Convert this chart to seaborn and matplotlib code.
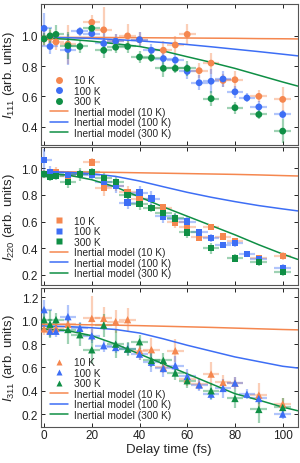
import numpy as np
import matplotlib
matplotlib.use("Agg")
import matplotlib.pyplot as plt
from matplotlib.lines import Line2D
import seaborn as sns

nan = np.nan

# delay times of the measured points (fs)
delay = [0, 2.5, 5, 10, 15, 20, 25, 30, 35, 40, 45, 50, 55, 60, 65, 70, 75, 80, 85, 90, 100]
delay_err = 3.5

# I_111
i111_10K = [0.98, 0.99, 0.96, 0.945, nan, 1.09, 1.04, 0.965, 1.0, 0.975, nan, 0.905, 0.94, 1.01, 0.77, 0.82, 0.705, 0.71, nan, 0.60, 0.58]
i111_100K = [1.05, 0.93, nan, 0.91, 1.03, 1.015, 0.95, 0.965, nan, 0.975, 0.905, 0.85, 0.84, 0.765, 0.69, 0.70, 0.715, 0.63, 0.59, 0.53, 0.48]
i111_300K = [0.98, 1.0, 1.01, 0.935, 0.93, 1.05, 0.905, 0.925, 0.93, 0.86, 0.855, 0.785, 0.785, 0.785, nan, 0.585, nan, 0.525, nan, 0.48, 0.37]
e111_10K = [0.05, 0.05, 0.05, 0.13, nan, 0.05, 0.15, 0.05, 0.08, 0.05, nan, 0.06, 0.06, 0.07, 0.05, 0.07, 0.04, 0.06, nan, 0.04, 0.08]
e111_100K = [0.1, 0.05, nan, 0.1, 0.03, 0.03, 0.07, 0.05, nan, 0.05, 0.04, 0.05, 0.04, 0.05, 0.05, 0.08, 0.05, 0.04, 0.03, 0.04, 0.03]
e111_300K = [0.04, 0.05, 0.06, 0.09, 0.04, 0.03, 0.05, 0.04, 0.04, 0.04, 0.03, 0.06, 0.03, 0.05, nan, 0.05, nan, 0.04, nan, 0.03, 0.08]

# I_220
i220_10K = [0.96, 0.965, 0.97, 0.94, 0.96, 1.045, 0.855, 0.87, 0.82, 0.773, nan, 0.705, 0.593, 0.56, 0.48, 0.56, 0.487, 0.455, nan, 0.322, 0.342]
i220_100K = [1.065, 0.975, 0.96, 0.95, 0.955, 0.95, 0.90, 0.867, 0.743, 0.818, 0.773, 0.638, 0.62, 0.60, 0.518, 0.475, 0.423, 0.437, 0.355, 0.317, 0.247]
i220_300K = [0.955, 0.935, 0.945, 0.90, 0.955, 0.975, 0.93, 0.897, 0.797, 0.73, 0.70, 0.662, 0.623, 0.518, nan, 0.398, nan, 0.322, nan, 0.297, 0.217]
e220_10K = [0.03, 0.03, 0.04, 0.04, 0.03, 0.03, 0.06, 0.04, 0.05, 0.04, nan, 0.03, 0.04, 0.03, 0.02, 0.02, 0.02, 0.02, nan, 0.02, 0.03]
e220_100K = [0.08, 0.04, 0.03, 0.03, 0.03, 0.03, 0.04, 0.05, 0.05, 0.05, 0.06, 0.05, 0.04, 0.04, 0.02, 0.03, 0.02, 0.03, 0.02, 0.02, 0.03]
e220_300K = [0.03, 0.03, 0.03, 0.05, 0.05, 0.03, 0.04, 0.04, 0.04, 0.04, 0.03, 0.04, 0.04, 0.04, nan, 0.04, nan, 0.03, nan, 0.03, 0.03]

# I_311
i311_10K = [0.93, 0.92, 0.935, 0.97, nan, 1.02, 1.02, 0.993, 1.009, 0.745, 0.752, 0.60, 0.743, 0.50, 0.455, 0.543, 0.471, 0.466, nan, 0.363, 0.286]
i311_100K = [1.095, 0.91, 0.91, 1.035, 0.935, 0.871, 0.786, 0.771, 0.76, 0.714, 0.645, 0.591, 0.615, 0.523, 0.449, 0.371, 0.42, 0.466, 0.371, 0.334, 0.20]
i311_300K = [1.01, 0.97, 1.01, 0.925, 0.88, 0.751, 0.962, 0.80, 0.757, 0.82, 0.66, 0.66, 0.552, 0.486, nan, 0.40, nan, 0.334, nan, 0.24, 0.257]
e311_10K = [0.05, 0.05, 0.05, 0.05, nan, 0.19, 0.10, 0.10, 0.10, 0.08, 0.10, 0.05, 0.10, 0.06, 0.05, 0.10, 0.06, 0.05, nan, 0.10, 0.05]
e311_100K = [0.08, 0.05, 0.05, 0.10, 0.05, 0.06, 0.05, 0.05, 0.05, 0.05, 0.08, 0.07, 0.08, 0.06, 0.05, 0.05, 0.08, 0.05, 0.04, 0.05, 0.04]
e311_300K = [0.10, 0.12, 0.06, 0.12, 0.10, 0.12, 0.10, 0.12, 0.06, 0.06, 0.06, 0.06, 0.06, 0.06, nan, 0.07, nan, 0.08, nan, 0.12, 0.08]

# inertial model curves
model_t = [-1.4, 0, 10, 20, 30, 40, 50, 60, 70, 80, 90, 100, 106.3]
m111_10K = [0.99, 0.99, 0.99, 0.99, 0.989, 0.988, 0.987, 0.986, 0.985, 0.984, 0.982, 0.981, 0.98]
m111_100K = [0.99, 0.99, 0.988, 0.983, 0.976, 0.967, 0.956, 0.943, 0.928, 0.912, 0.896, 0.879, 0.868]
m111_300K = [0.985, 0.985, 0.978, 0.965, 0.948, 0.93, 0.90, 0.862, 0.825, 0.785, 0.74, 0.695, 0.668]
m220_10K = [0.975, 0.975, 0.974, 0.972, 0.970, 0.967, 0.964, 0.961, 0.958, 0.955, 0.951, 0.946, 0.943]
m220_100K = [0.975, 0.975, 0.97, 0.96, 0.94, 0.905, 0.862, 0.82, 0.783, 0.75, 0.72, 0.695, 0.68]
m220_300K = [0.965, 0.965, 0.95, 0.915, 0.86, 0.785, 0.71, 0.64, 0.57, 0.50, 0.425, 0.355, 0.315]
m311_10K = [0.97, 0.97, 0.968, 0.965, 0.962, 0.958, 0.953, 0.948, 0.943, 0.937, 0.931, 0.925, 0.922]
m311_100K = [0.955, 0.955, 0.95, 0.94, 0.925, 0.895, 0.845, 0.79, 0.74, 0.69, 0.65, 0.61, 0.595]
m311_300K = [0.93, 0.93, 0.915, 0.872, 0.80, 0.715, 0.63, 0.545, 0.46, 0.375, 0.32, 0.26, 0.229]

temps = ["10 K", "100 K", "300 K"]
colors = ["#f5874f", "#3d6ef5", "#0f8f45"]

sns.set_theme(style="ticks")
plt.rcParams["font.family"] = ["Liberation Sans", "DejaVu Sans"]
plt.rcParams["mathtext.fontset"] = "custom"
plt.rcParams["mathtext.rm"] = "Liberation Sans"
plt.rcParams["mathtext.it"] = "Liberation Sans:italic"

panels = [
    dict(name="111", marker="o", s=24, data=[i111_10K, i111_100K, i111_300K],
         err=[e111_10K, e111_100K, e111_300K], model=[m111_10K, m111_100K, m111_300K],
         ylim=(0.278, 1.211), yticks=[0.4, 0.6, 0.8, 1.0], rect=[0.1357, 0.6853, 0.8567, 0.3039]),
    dict(name="220", marker="s", s=20, data=[i220_10K, i220_100K, i220_300K],
         err=[e220_10K, e220_100K, e220_300K], model=[m220_10K, m220_100K, m220_300K],
         ylim=(0.122, 1.165), yticks=[0.2, 0.4, 0.6, 0.8, 1.0], rect=[0.1357, 0.3836, 0.8567, 0.2985]),
    dict(name="311", marker="^", s=28, data=[i311_10K, i311_100K, i311_300K],
         err=[e311_10K, e311_100K, e311_300K], model=[m311_10K, m311_100K, m311_300K],
         ylim=(0.092, 1.278), yticks=[0.2, 0.4, 0.6, 0.8, 1.0, 1.2], rect=[0.1357, 0.0782, 0.8567, 0.2983]),
]

fig = plt.figure(figsize=(3.0, 4.64), dpi=100)

for i, p in enumerate(panels):
    ax = fig.add_axes(p["rect"])
    for vals, err, c in zip(p["data"], p["err"], colors):
        ax.errorbar(delay, vals, yerr=err, xerr=delay_err, fmt="none", ecolor=c,
                    alpha=0.4, elinewidth=1.6, capsize=0, zorder=1)
    for mod, c in zip(p["model"], colors):
        sns.lineplot(x=model_t, y=mod, color=c, lw=1.1, ax=ax, zorder=2)
    for vals, c in zip(p["data"], colors):
        sns.scatterplot(x=delay, y=vals, marker=p["marker"], s=p["s"], color=c,
                        edgecolor="none", linewidth=0, ax=ax, zorder=3)

    ax.set_xlim(-1.4, 106.3)
    ax.set_ylim(*p["ylim"])
    ax.set_xticks([0, 20, 40, 60, 80, 100])
    ax.set_yticks(p["yticks"])
    ax.set_yticklabels([f"{t:.1f}" for t in p["yticks"]])
    ax.tick_params(direction="in", top=True, right=True, length=3, width=0.7,
                   labelsize=8.5, pad=2, colors="#222222")
    for sp in ax.spines.values():
        sp.set_color("#555555")
        sp.set_linewidth(0.8)
    ax.set_ylabel(r"$I_{%s}$ (arb. units)" % p["name"], fontsize=9.5, labelpad=3)
    if i < 2:
        ax.tick_params(labelbottom=False)
        ax.set_xlabel("")
    else:
        ax.set_xlabel("Delay time (fs)", fontsize=9.5, labelpad=1)

    handles = [Line2D([], [], ls="none", marker=p["marker"], ms=5, color=c, mec="none") for c in colors]
    handles += [Line2D([], [], color=c, lw=1.1) for c in colors]
    labels = temps + [f"Inertial model ({t})" for t in temps]
    ax.legend(handles, labels, loc="lower left", bbox_to_anchor=(0.035, 0.05), frameon=False,
              fontsize=7.3, handlelength=1.8, handletextpad=0.6, labelspacing=0.05,
              borderpad=0, borderaxespad=0)

fig.align_ylabels(fig.axes)
fig.savefig("out.png", dpi=100)
